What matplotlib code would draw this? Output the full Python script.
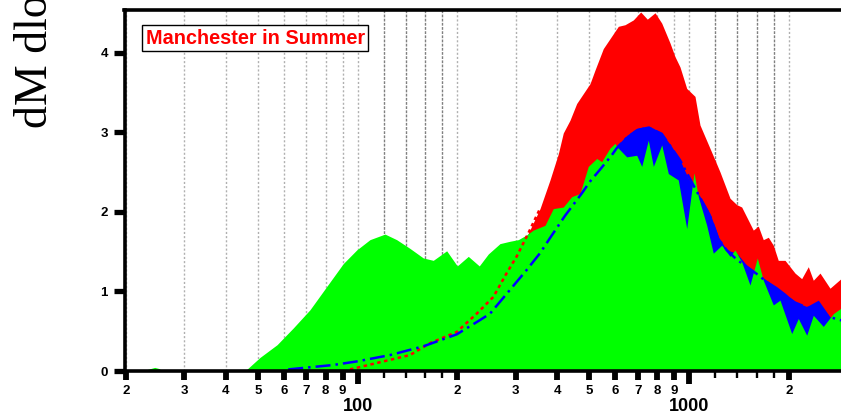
import matplotlib
matplotlib.use("Agg")
import matplotlib.pyplot as plt
from matplotlib.ticker import FixedLocator, FixedFormatter, NullLocator

# particle diameter (nm) and dM/dlogD values
dp_green = [20, 22.3, 24.4, 25.2, 25.6, 45.7, 50.7, 57.1, 63.9, 71.8, 80.6, 90.5, 99.3,
            108.9, 120.9, 131.1, 143.8, 157.8, 169.1, 185.6, 199.8, 215.7, 232.8, 247.9,
            268.8, 288.3, 305.3, 323.7, 338.8, 367.6, 389.3, 417.4, 442.5, 468.8, 496.6,
            526.6, 545.0, 577.5, 597.9, 605.1, 648.6, 695.3, 719.9, 753.7, 780.4, 827.4,
            866.2, 928.3, 984.2, 1035.4, 1066.9, 1130.9, 1183.9, 1255.2, 1329.9, 1376.6,
            1442.3, 1527.7, 1607.4, 1675.8, 1796.6, 1882.1, 2041.7, 2137.4, 2266.2, 2372.4,
            2542.4, 2726.4, 2876, 3000]
green = [0.0, 0.0, 0.045, 0.03, 0.0, 0.0, 0.17, 0.33, 0.54, 0.77, 1.06, 1.35, 1.52,
         1.65, 1.72, 1.65, 1.54, 1.42, 1.39, 1.51, 1.32, 1.44, 1.32, 1.47,
         1.60, 1.63, 1.65, 1.71, 1.77, 1.83, 2.04, 2.06, 2.19, 2.23, 2.57,
         2.67, 2.63, 2.80, 2.86, 2.82, 2.69, 2.71, 2.57, 2.90, 2.57, 2.84,
         2.48, 2.40, 1.79, 2.49, 2.19, 1.83, 1.48, 1.58, 1.44, 1.52,
         1.37, 1.08, 1.42, 1.14, 0.83, 0.89, 0.47, 0.66, 0.45, 0.70,
         0.56, 0.72, 0.79, 0.80]

dp_blue = [61.7, 84.2, 99.3, 125.2, 157.8, 199.0, 234.0, 250.8, 288.3, 323.7, 355.1,
           380.6, 422.4, 474.4, 502.6, 538.7, 584.4, 605.1, 648.6, 695.3, 753.7, 780.4,
           827.4, 886.8, 939.3, 995.2, 1066.9, 1157.3, 1225.8, 1299.6, 1393.2, 1493.2,
           1600.7, 1716.1, 1839.2, 1949.0, 2089.3, 2266.2, 2456.4, 2664.4, 2876, 3000]
blue = [0.02, 0.075, 0.12, 0.20, 0.31, 0.46, 0.64, 0.72, 1.02, 1.27, 1.48,
        1.67, 1.95, 2.23, 2.38, 2.53, 2.71, 2.83, 2.96, 3.05, 3.08, 3.05,
        2.99, 2.82, 2.65, 2.42, 2.23, 1.98, 1.69, 1.52, 1.48, 1.33,
        1.23, 1.14, 1.06, 0.98, 0.87, 0.81, 0.89, 0.68, 0.67, 0.66]

dp_red = [94.8, 119.5, 143.8, 165.3, 199.0, 228.7, 256.7, 281.7, 302.0, 327.3, 355.1,
          380.6, 403.3, 417.4, 437.3, 458.1, 502.6, 520.3, 551.2, 611.9, 641.0, 679.0,
          714.9, 748.5, 789.8, 827.4, 876.4, 907.2, 939.3, 984.2, 1042.6, 1079.4, 1198.0,
          1240.6, 1329.9, 1393.2, 1442.3, 1563.4, 1618.6, 1675.8, 1735.6, 1796.6, 1859.5,
          1949.0, 2089.3, 2188.0, 2291.3, 2372.4, 2485.4, 2664.4, 2876, 3000]
red = [0.02, 0.12, 0.20, 0.35, 0.49, 0.72, 0.93, 1.23, 1.44, 1.73, 2.04,
       2.40, 2.73, 2.99, 3.15, 3.36, 3.61, 3.78, 4.05, 4.33, 4.35, 4.41,
       4.51, 4.42, 4.50, 4.37, 4.12, 3.95, 3.82, 3.55, 3.45, 3.09, 2.65,
       2.50, 2.17, 2.09, 2.06, 1.77, 1.82, 1.65, 1.68, 1.58, 1.39,
       1.39, 1.23, 1.16, 1.31, 1.14, 1.23, 1.04, 1.16, 1.10]

# fitted curves
dp_fit_blue = [61.7, 84.2, 99.3, 125.2, 157.8, 199.0, 234.0, 250.8, 288.3, 323.7, 355.1,
               380.6, 422.4, 474.4, 502.6, 538.7, 584.4, 605.1, 648.6, 695.3, 753.7, 827.4,
               939.3, 1066.9, 1157.3, 1225.8, 1299.6, 1393.2, 1600.7, 1839.2, 2089.3, 2456.4,
               2788, 3000]
fit_blue = [0.02, 0.075, 0.12, 0.20, 0.31, 0.46, 0.64, 0.72, 1.02, 1.27, 1.48,
            1.67, 1.95, 2.23, 2.38, 2.53, 2.71, 2.80, 2.93, 3.02, 3.06, 2.98,
            2.65, 2.22, 1.95, 1.66, 1.52, 1.40, 1.22, 1.02, 0.86, 0.74,
            0.65, 0.62]
dp_fit_red = [94.8, 119.5, 143.8, 165.3, 199.0, 228.7, 256.7, 281.7, 302.0, 327.3, 355.1]
fit_red = [0.02, 0.12, 0.20, 0.35, 0.49, 0.72, 0.93, 1.23, 1.44, 1.73, 2.04]

major_ticks = [100, 1000]
minor_ticks = [20, 30, 40, 50, 60, 70, 80, 90, 200, 300, 400, 500, 600, 700, 800, 900, 2000]
minor_labels = ["2", "3", "4", "5", "6", "7", "8", "9",
                "2", "3", "4", "5", "6", "7", "8", "9", "2"]
small_ticks = [120, 140, 160, 180, 1200, 1400, 1600, 1800]
y_ticks = [0, 1, 2, 3, 4]

fig = plt.figure(figsize=(8.41, 4.16), dpi=100)
ax = fig.add_axes([124.5 / 841, 45 / 416, (841 - 124.5) / 841, 361 / 416])
ax.set_xscale("log")

# grid lines behind everything
for v in minor_ticks + major_ticks:
    ax.axvline(v, color="#b0b0b0", lw=1.0, ls=(0, (1.5, 1.5)), zorder=0.5)
for v in small_ticks:
    ax.axvline(v, color="#808080", lw=1.0, ls=(0, (2, 1)), zorder=0.5)

ax.fill_between(dp_red, 0, red, color="#ff0000", lw=0, zorder=1)
ax.fill_between(dp_blue, 0, blue, color="#0000ff", lw=0, zorder=2)
ax.fill_between(dp_green, 0, green, color="#00ff00", lw=0, zorder=3)

ax.plot(dp_fit_red, fit_red, color="#ff0000", lw=1.8, ls=(0, (1.4, 1.4)), zorder=4)
ax.plot(dp_fit_blue, fit_blue, color="#0000ff", lw=1.8, ls=(0, (6, 2, 1, 2)), zorder=5)

ax.set_xlim(19.78, 2876)
ax.set_ylim(0, 4.535)

for s in ["left", "top", "bottom"]:
    ax.spines[s].set_linewidth(2.6)
    ax.spines[s].set_zorder(6)
ax.spines["right"].set_visible(False)

ax.xaxis.set_major_locator(FixedLocator(major_ticks))
ax.xaxis.set_major_formatter(FixedFormatter(["100", "1000"]))
ax.xaxis.set_minor_locator(FixedLocator(minor_ticks))
ax.xaxis.set_minor_formatter(FixedFormatter(minor_labels))
ax.tick_params(axis="x", which="major", length=9.7, width=4.2, pad=9.5,
               labelsize=13)
ax.tick_params(axis="x", which="minor", length=6.8, width=4.2, pad=3.0,
               labelsize=9.5)
ax.set_yticks(y_ticks)
ax.yaxis.set_minor_locator(NullLocator())
ax.tick_params(axis="y", length=8, width=3.8, pad=4.0, labelsize=9.5)
for lab in ax.get_xticklabels(which="both") + ax.get_yticklabels():
    lab.set_fontweight("bold")
    lab.set_family("Liberation Sans")

# the little unlabeled ticks at 1.2, 1.4, 1.6, 1.8
sec = ax.secondary_xaxis("bottom")
sec.set_xticks(small_ticks)
sec.set_xticklabels([])
sec.xaxis.set_minor_locator(NullLocator())
sec.tick_params(axis="x", length=4.9, width=1.7)
sec.spines["bottom"].set_visible(False)

ax.text(0.0294, 0.9219, "Manchester in Summer", transform=ax.transAxes,
        color="red", fontweight="bold", fontsize=14.3, family="Liberation Sans",
        ha="left", va="center", zorder=7,
        bbox=dict(boxstyle="square,pad=0.18", fc="white", ec="black", lw=1.0))

fig.text(47 / 841, 1 - 128 / 416, "dM dlogD", rotation=90, rotation_mode="anchor",
         ha="left", va="baseline", fontsize=33, family="Liberation Serif")

fig.savefig("out.png", dpi=100)
